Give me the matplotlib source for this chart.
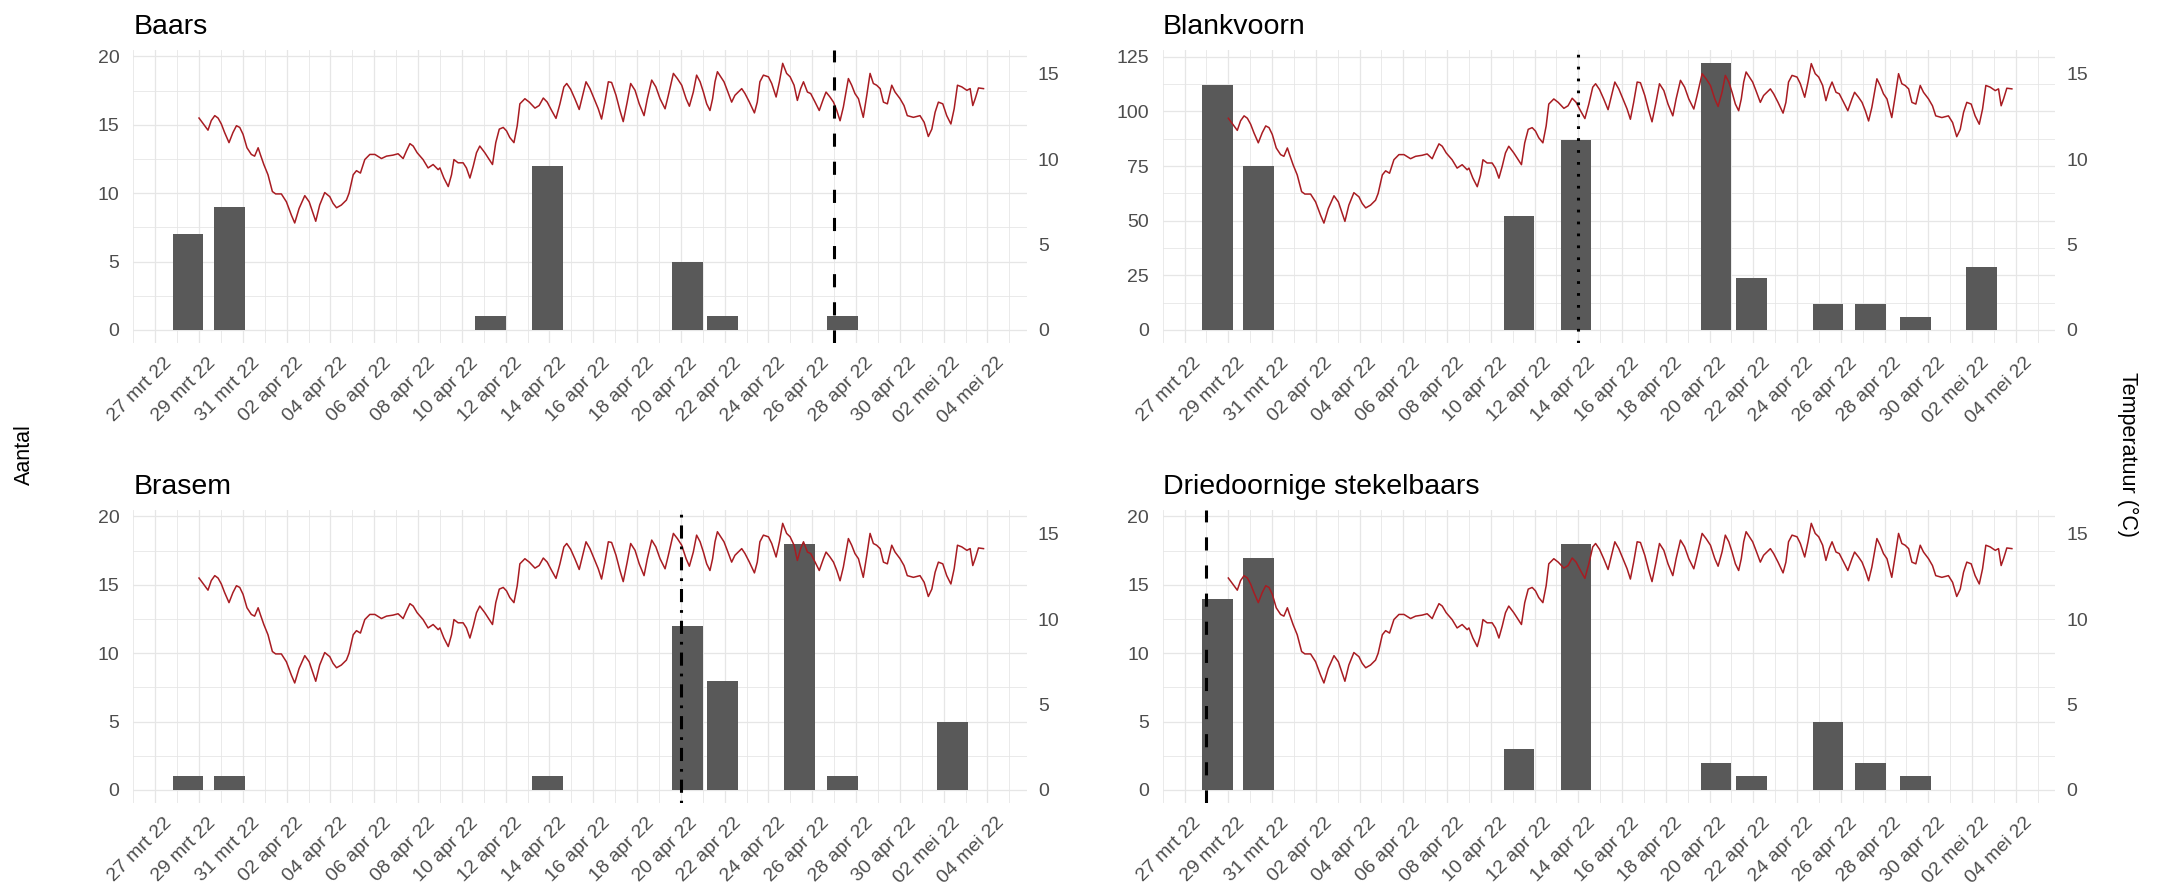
import matplotlib
matplotlib.use("Agg")
import matplotlib.pyplot as plt
import matplotlib.dates as mdates
import matplotlib.transforms as mtransforms
import numpy as np
from datetime import datetime, timedelta

plt.rcParams['font.family'] = ['Liberation Sans', 'DejaVu Sans']

# ---------------------------------------------------------------- data
# sampling moments (one bar per sampling moment)
sample_times = ['2022-03-28 12:00', '2022-03-30 09:00', '2022-04-11 07:00',
                '2022-04-13 21:30', '2022-04-20 07:00', '2022-04-21 22:00',
                '2022-04-25 10:00', '2022-04-27 09:00', '2022-04-29 10:00',
                '2022-05-02 10:00']

baars_counts = [7, 9, 1, 12, 5, 1, 0, 1, 0, 0]
blankvoorn_counts = [112, 75, 52, 87, 122, 24, 12, 12, 6, 29]
brasem_counts = [1, 1, 0, 1, 12, 8, 18, 1, 0, 5]
stekelbaars_counts = [14, 17, 3, 18, 2, 1, 5, 2, 1, 0]

species = ['Baars', 'Blankvoorn', 'Brasem', 'Driedoornige stekelbaars']
marker_dates = ['2022-04-27', '2022-04-14', '2022-04-20', '2022-03-28']

# water temperature, time in days after 29 mrt 2022 00:00
temp_start = '2022-03-29 00:00'
temp_day = [
    0.00, 0.18, 0.41, 0.56, 0.72, 0.87, 1.02, 1.17, 1.37, 1.55,
    1.71, 1.86, 2.01, 2.19, 2.39, 2.54, 2.70, 2.80, 2.96, 3.15,
    3.35, 3.50, 3.76, 3.99, 4.22, 4.37, 4.57, 4.83, 5.03, 5.21,
    5.33, 5.51, 5.74, 5.97, 6.12, 6.28, 6.50, 6.73, 6.85, 7.04,
    7.19, 7.37, 7.57, 7.80, 8.03, 8.33, 8.56, 8.86, 9.09, 9.32,
    9.47, 9.63, 9.78, 9.96, 10.23, 10.46, 10.69, 10.92,
    11.00, 11.18, 11.38, 11.53, 11.64, 11.83, 12.06, 12.21, 12.37, 12.52,
    12.67, 12.82, 13.05, 13.25, 13.40, 13.55, 13.71, 13.89, 14.04, 14.19,
    14.38, 14.53, 14.65, 14.88, 15.08, 15.34, 15.53, 15.72, 15.90, 16.10,
    16.30, 16.48, 16.66, 16.79, 16.97, 17.16, 17.36, 17.52, 17.67, 17.85,
    18.04, 18.23, 18.38, 18.53, 18.69, 18.84, 19.04, 19.22, 19.37, 19.55,
    19.71, 19.91, 20.10, 20.32, 20.47, 20.67, 20.86, 21.05, 21.28, 21.43,
    21.66, 21.84, 22.04, 22.24, 22.39, 22.57, 22.72, 22.88,
    23.03, 23.18, 23.33, 23.45, 23.56, 23.67, 23.82, 23.97, 24.12, 24.32,
    24.47, 24.62, 24.78, 24.93, 25.13, 25.36, 25.49, 25.61, 25.77, 26.00,
    26.15, 26.35, 26.50, 26.65, 26.83, 26.99, 27.17, 27.32, 27.47, 27.60,
    27.78, 27.93, 28.13, 28.32, 28.51, 28.63, 28.81, 28.97, 29.12, 29.27,
    29.42, 29.54, 29.65, 29.80, 29.95, 30.11, 30.33, 30.49, 30.64, 30.79,
    30.94, 31.10, 31.25, 31.43, 31.63, 31.78, 32.01, 32.19, 32.34, 32.62,
    32.92, 33.11, 33.30, 33.46, 33.61, 33.76, 33.96, 34.14, 34.33, 34.48,
    34.63, 34.83, 35.06, 35.21, 35.33, 35.44, 35.59, 35.82]
temp_c = [
    12.40, 12.09, 11.69, 12.25, 12.54, 12.40, 12.05, 11.55, 10.96, 11.55,
    11.95, 11.85, 11.45, 10.66, 10.27, 10.17, 10.66, 10.27, 9.68, 9.08,
    8.10, 7.96, 7.96, 7.50, 6.71, 6.26, 7.11, 7.86, 7.50, 6.81,
    6.36, 7.31, 8.04, 7.80, 7.41, 7.15, 7.31, 7.60, 8.00, 9.08,
    9.32, 9.18, 9.97, 10.27, 10.27, 10.03, 10.17, 10.23, 10.31, 10.03,
    10.47, 10.90, 10.76, 10.37, 9.97, 9.48, 9.68, 9.38,
    9.48, 8.89, 8.39, 9.08, 9.97, 9.78, 9.78, 9.48, 8.89, 9.58,
    10.37, 10.76, 10.37, 9.97, 9.68, 10.96, 11.75, 11.85, 11.65, 11.26,
    10.96, 11.95, 13.23, 13.53, 13.33, 12.98, 13.13, 13.57, 13.33, 12.84,
    12.38, 13.23, 14.22, 14.42, 14.08, 13.53, 12.90, 13.73, 14.52, 14.12,
    13.53, 12.94, 12.34, 13.33, 14.52, 14.48, 13.73, 12.84, 12.19, 13.33,
    14.42, 14.02, 13.23, 12.54, 13.53, 14.62, 14.22, 13.53, 12.94, 13.73,
    15.01, 14.71, 14.32, 13.53, 13.09, 13.92, 14.91, 14.52,
    13.92, 13.23, 12.84, 13.53, 14.52, 15.11, 14.81, 14.52, 14.02, 13.33,
    13.73, 13.92, 14.12, 13.83, 13.33, 12.70, 13.33, 14.52, 14.91, 14.81,
    14.42, 13.63, 14.52, 15.60, 15.01, 14.81, 14.32, 13.43, 14.12, 14.52,
    13.92, 13.83, 13.33, 12.84, 13.53, 13.92, 13.63, 13.33, 12.84, 12.24,
    13.04, 13.92, 14.71, 14.32, 13.83, 13.53, 12.44, 13.73, 15.01, 14.42,
    14.32, 14.12, 13.33, 13.23, 14.32, 13.92, 13.53, 13.13, 12.54, 12.44,
    12.54, 12.15, 11.32, 11.75, 12.74, 13.33, 13.23, 12.54, 12.05, 12.94,
    14.32, 14.22, 14.02, 14.12, 13.13, 13.53, 14.16, 14.12]

# count-axis breaks and temperature breaks
count_breaks_small = [0, 5, 10, 15, 20]
count_breaks_large = [0, 25, 50, 75, 100, 125]
temp_breaks = [0, 5, 10, 15]

month_nl = {3: 'mrt', 4: 'apr', 5: 'mei'}

# ---------------------------------------------------------------- styling
W, H = 2160, 893
BAR_COLOR = '#595959'
LINE_COLOR = '#A81C22'
GRID_COLOR = '#E6E6E6'
TEXT_COLOR = '#4D4D4D'
TICK_SIZE = 14
BAR_WIDTH = 1.41  # days

fig = plt.figure(figsize=(W / 100, H / 100), dpi=100)


def px_rect(x0, y0, x1, y1):
    return [x0 / W, 1 - y1 / H, (x1 - x0) / W, (y1 - y0) / H]


panel_boxes = [
    (133.3, 50.0, 1026.7, 343.3),
    (1162.7, 50.0, 2055.0, 343.3),
    (133.3, 510.0, 1026.7, 803.3),
    (1162.7, 510.0, 2055.0, 803.3),
]
line_styles = [
    dict(dashes=(4.3, 4.9)),
    dict(dashes=(0.9, 3.0)),
    dict(dashes=(0.9, 2.6, 4.3, 2.6)),
    dict(dashes=(4.3, 4.9)),
]

x_start = mdates.date2num(datetime(2022, 3, 26, 0, 0))
x_end = mdates.date2num(datetime(2022, 5, 5, 19, 0))

major_days = [datetime(2022, 3, 27) + timedelta(days=2 * i) for i in range(20)]
minor_days = [datetime(2022, 3, 26) + timedelta(days=2 * i) for i in range(21)]
tick_labels = [f"{d.day:02d} {month_nl[d.month]} {d.strftime('%y')}" for d in major_days]

sample_x = mdates.date2num([datetime.strptime(s, '%Y-%m-%d %H:%M') for s in sample_times])
t0 = datetime.strptime(temp_start, '%Y-%m-%d %H:%M')
temp_x = mdates.date2num(t0) + np.array(temp_day)
temp_y = np.array(temp_c)

all_counts = [baars_counts, blankvoorn_counts, brasem_counts, stekelbaars_counts]

for i, (name, counts) in enumerate(zip(species, all_counts)):
    box = panel_boxes[i]
    ax = fig.add_axes(px_rect(*box))
    breaks = count_breaks_large if max(counts) > 40 else count_breaks_small
    coeff = breaks[-1] / 16.0

    counts = np.array(counts, dtype=float)
    keep = counts > 0
    ax.bar(sample_x[keep], counts[keep], width=BAR_WIDTH, color=BAR_COLOR,
           zorder=2, linewidth=0)
    ax.plot(temp_x, temp_y * coeff, color=LINE_COLOR, lw=1.1, zorder=3)
    vx = mdates.date2num(datetime.strptime(marker_dates[i], '%Y-%m-%d'))
    ax.axvline(vx, color='black', lw=2.2, zorder=4, dash_capstyle='butt',
               **line_styles[i])

    top = max(counts.max(), temp_y.max() * coeff)
    ax.set_ylim(-0.05 * top, 1.05 * top)
    ax.set_xlim(x_start, x_end)

    ax.set_yticks(breaks)
    ax.set_yticks([(a + b) / 2 for a, b in zip(breaks[:-1], breaks[1:])], minor=True)
    ax.set_xticks(mdates.date2num(major_days))
    ax.set_xticks(mdates.date2num(minor_days), minor=True)
    ax.set_xticklabels(tick_labels)

    ax.grid(which='major', color=GRID_COLOR, lw=0.9, zorder=0)
    ax.grid(which='minor', color=GRID_COLOR, lw=0.6, zorder=0)
    ax.set_axisbelow(True)
    for s in ax.spines.values():
        s.set_visible(False)

    ax.tick_params(which='both', length=0)
    ax.tick_params(axis='y', labelsize=TICK_SIZE, labelcolor=TEXT_COLOR, pad=10)
    ax.tick_params(axis='x', labelsize=TICK_SIZE, labelcolor=TEXT_COLOR, pad=8)
    shift = mtransforms.ScaledTranslation(8 / 100, 0, fig.dpi_scale_trans)
    for lab in ax.get_xticklabels():
        lab.set_rotation(45)
        lab.set_ha('right')
        lab.set_va('top')
        lab.set_rotation_mode('anchor')
        lab.set_transform(lab.get_transform() + shift)

    sec = ax.secondary_yaxis('right', functions=(lambda v, c=coeff: v / c,
                                                 lambda t, c=coeff: t * c))
    sec.set_yticks(temp_breaks)
    sec.tick_params(length=0, labelsize=TICK_SIZE, labelcolor=TEXT_COLOR, pad=8)
    for s in sec.spines.values():
        s.set_visible(False)

    fig.text(box[0] / W, 1 - (box[1] - 15.7) / H, name, fontsize=20.5,
             color='black', ha='left', va='baseline')

fig.text(24 / W, 1 - 455 / H, 'Aantal', rotation=90, fontsize=15.5, color='black',
         ha='center', va='center')
fig.text(2128 / W, 1 - 455 / H, 'Temperatuur (°C)', rotation=270, fontsize=15.5,
         color='black', ha='center', va='center')

fig.savefig('out.png', dpi=100, facecolor='white')
